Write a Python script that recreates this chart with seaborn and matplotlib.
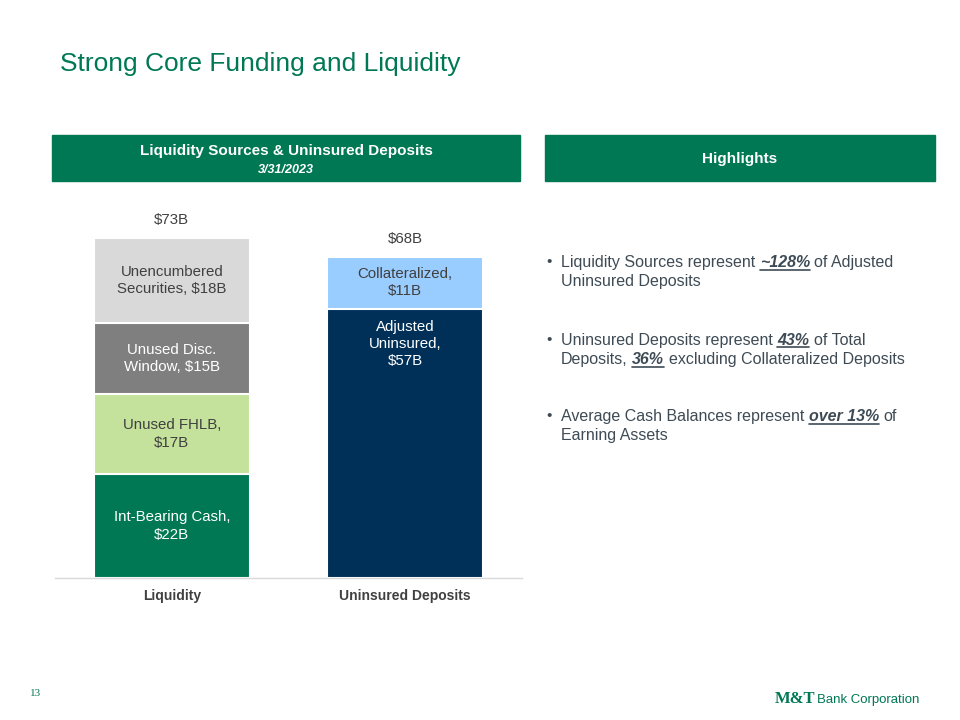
import matplotlib
matplotlib.use("Agg")
import matplotlib.pyplot as plt
from matplotlib.patches import Rectangle
from matplotlib.lines import Line2D
import seaborn as sns
import pandas as pd
import numpy as np

sns.set_style("white")
plt.rcParams["font.family"] = ["Liberation Sans", "DejaVu Sans"]

# ---- data ----
categories = ["Liquidity", "Uninsured Deposits"]
liq_segments = ["Int-Bearing Cash,\n$22B", "Unused FHLB,\n$17B",
                "Unused Disc.\nWindow, $15B", "Unencumbered\nSecurities, $18B"]
liq_values = [22, 17, 15, 18]
liq_colors = ["#007853", "#C4E29B", "#7F7F7F", "#D9D9D9"]
liq_text = ["white", "#404040", "white", "#404040"]

dep_segments = ["Adjusted\nUninsured,\n$57B", "Collateralized,\n$11B"]
dep_values = [57, 11]
dep_colors = ["#003057", "#99CCFF"]
dep_text = ["white", "#404040"]

totals = ["$73B", "$68B"]

GREEN = "#007853"
DARK = "#404040"
BODY = "#3E4B55"

# build stacked data as cumulative heights (overlaid, tallest first)
rows = []
for cat, segs, vals in [(categories[0], liq_segments, liq_values),
                        (categories[1], dep_segments, dep_values)]:
    cum = np.cumsum(vals)
    for s, c in zip(segs, cum):
        rows.append({"category": cat, "segment": s, "cum": c})
df = pd.DataFrame(rows)

hue_order = liq_segments[::-1] + dep_segments[::-1]
palette = dict(zip(liq_segments + dep_segments, liq_colors + dep_colors))

fig = plt.figure(figsize=(9.6, 7.2), dpi=100)
W, H = 960, 720

def fx(px):
    return px / W

def fy(py):
    return 1 - py / H

ax = fig.add_axes([fx(55), fy(578), fx(467), 378 / H])
sns.barplot(data=df, x="category", y="cum", hue="segment", hue_order=hue_order,
            order=categories, palette=palette, dodge=False, width=0.668,
            saturation=1, edgecolor="white", linewidth=1.5, legend=False, ax=ax)
ax.set_xlim(-0.5, 1.5)
ax.set_ylim(0, 80)
ax.set_xlabel("")
ax.set_ylabel("")
ax.set_yticks([])
for s in ["top", "left", "right"]:
    ax.spines[s].set_visible(False)
ax.spines["bottom"].set_color("#D9D9D9")
ax.spines["bottom"].set_linewidth(1)
ax.tick_params(axis="x", length=0, pad=8)
for lbl in ax.get_xticklabels():
    lbl.set_fontweight("bold")
    lbl.set_fontsize(10)
    lbl.set_color(DARK)

# segment labels
for i, (segs, vals, tcols) in enumerate([(liq_segments, liq_values, liq_text),
                                         (dep_segments, dep_values, dep_text)]):
    bottoms = np.concatenate([[0], np.cumsum(vals)[:-1]])
    for j, (s, v, b, tc) in enumerate(zip(segs, vals, bottoms, tcols)):
        if i == 1 and j == 0:
            y, va = b + v - 2.3, "top"
        else:
            y, va = b + v / 2, "center"
        ax.text(i, y, s, ha="center", va=va, color=tc, fontsize=10.8,
                linespacing=1.3)
    ax.annotate(totals[i], (i, sum(vals)), xytext=(0, 11), textcoords="offset pixels",
                ha="center", va="bottom", fontsize=10.8, color=DARK)

# ---- slide decorations ----
fig.text(fx(60), fy(64), "Strong Core Funding and Liquidity", fontsize=19,
         color=GREEN, va="center", ha="left")

fig.patches.append(Rectangle((fx(52), fy(181)), fx(468), 46 / H,
                             transform=fig.transFigure, color=GREEN, zorder=0))
fig.patches.append(Rectangle((fx(545), fy(181)), fx(390), 46 / H,
                             transform=fig.transFigure, color=GREEN, zorder=0))
fig.text(fx(286), fy(151), "Liquidity Sources & Uninsured Deposits", color="white",
         fontsize=11, fontweight="bold", ha="center", va="center")
fig.text(fx(286), fy(170), "3/31/2023", color="white", fontsize=9,
         fontweight="bold", style="italic", ha="center", va="center")
fig.text(fx(740), fy(159), "Highlights", color="white", fontsize=11,
         fontweight="bold", ha="center", va="center")

# ---- bullets with mixed styling ----
renderer = fig.canvas.get_renderer()
BFS = 11.5

def width_px(s, **kw):
    t = fig.text(0, 0, s, fontsize=BFS, **kw)
    w = t.get_window_extent(renderer).width
    t.remove()
    return w

space_w = width_px("x x") - width_px("xx")

def run_line(x0, ybase, runs):
    x = x0
    for s, emph in runs:
        kw = {"fontweight": "bold", "style": "italic"} if emph else {}
        lead = len(s) - len(s.lstrip(" "))
        x += lead * space_w
        core = s.strip(" ")
        fig.text(fx(x), fy(ybase), core, fontsize=BFS, color=BODY, va="baseline",
                 ha="left", **kw)
        w = width_px(core, **kw)
        if emph:
            fig.lines.append(Line2D([fx(x), fx(x + w)], [fy(ybase + 2.5)] * 2,
                                    transform=fig.transFigure, color=BODY, lw=1.2))
        x += w
        trail = len(s) - len(s.rstrip(" "))
        x += trail * space_w

bullets = [
    [[("Liquidity Sources represent ", False), ("~128%", True), (" of Adjusted", False)],
     [("Uninsured Deposits", False)]],
    [[("Uninsured Deposits represent ", False), ("43%", True), (" of Total", False)],
     [("Deposits, ", False), ("36%", True), (" excluding Collateralized Deposits", False)]],
    [[("Average Cash Balances represent ", False), ("over 13%", True), (" of", False)],
     [("Earning Assets", False)]],
]
bullet_y = [267, 345, 421]
line_gap = 19
for yb, lines in zip(bullet_y, bullets):
    fig.text(fx(546), fy(yb - 1), "\u2022", fontsize=11, color=BODY, va="baseline")
    for n, runs in enumerate(lines):
        run_line(561, yb + n * line_gap, runs)

# footer
fig.text(fx(30), fy(693), "13", fontsize=8, color=GREEN, va="center",
         family=["Liberation Serif", "DejaVu Serif"])
t1 = fig.text(fx(775), fy(703), "M&T", fontsize=12, color=GREEN, va="baseline",
              fontweight="bold", family=["Liberation Serif", "DejaVu Serif"])
w1 = t1.get_window_extent(renderer).width
fig.text(fx(775 + w1 + 1), fy(703), "Bank Corporation", fontsize=9.5, color=GREEN,
         va="baseline")

fig.savefig("out.png", dpi=100)
plt.close(fig)
